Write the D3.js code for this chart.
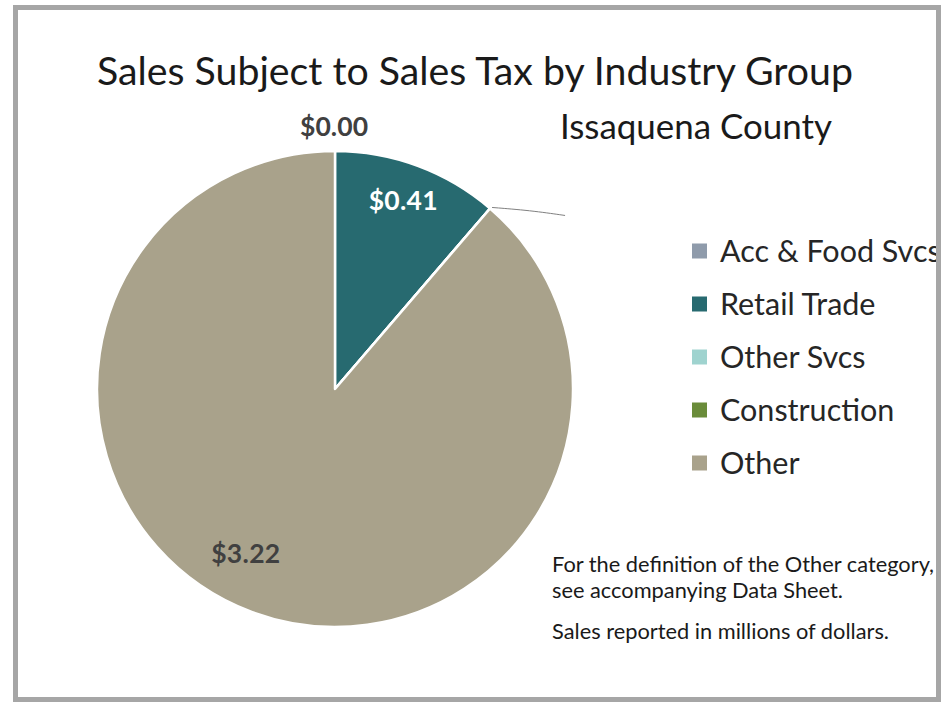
<!DOCTYPE html>
<html><head><meta charset="utf-8">
<script src="https://cdn.jsdelivr.net/npm/d3@7"></script>
<style>
body{margin:0;background:#fff;}
text{font-family:Lato,"Open Sans",sans-serif;}
</style></head>
<body><svg id="c" width="949" height="704"></svg>
<script>
const categories = ["Acc & Food Svcs","Retail Trade","Other Svcs","Construction","Other"];
const values = [0.00, 0.41, 0.00, 0.00, 3.22];
const colors = ["#8f9bab","#276a70","#9fd3cf","#6a8c3a","#a9a28b"];
const title = "Sales Subject to Sales Tax by Industry Group";
const subtitle = "Issaquena County";
const notes = ["For the definition of the Other category,","see accompanying Data Sheet.","Sales reported in millions of dollars."];

const svg = d3.select("#c");
svg.append("defs").append("clipPath").attr("id","frame")
  .append("rect").attr("x",18).attr("y",10).attr("width",918).attr("height",687);
svg.append("rect").attr("x",15.5).attr("y",7.5).attr("width",923).attr("height",692)
  .attr("fill","#fff").attr("stroke","#a6a6a6").attr("stroke-width",5);

const main = svg.append("g").attr("clip-path","url(#frame)");

main.append("text").attr("x",97).attr("y",85)
  .attr("font-size",39.4).attr("fill","#1a1a1a")
  .attr("textLength",756).attr("lengthAdjust","spacingAndGlyphs").text(title);
main.append("text").attr("x",560).attr("y",139)
  .attr("font-size",34).attr("fill","#1a1a1a")
  .attr("textLength",272).attr("lengthAdjust","spacingAndGlyphs").text(subtitle);

const cx=335, cy=389, R=238;
const data = categories.map((c,i)=>({cat:c,value:values[i],color:colors[i]}));
const pie = d3.pie().sort(null).value(d=>d.value);
const arcs = pie(data);
const arc = d3.arc().innerRadius(0).outerRadius(R);
const g = main.append("g").attr("transform",`translate(${cx},${cy})`);
g.selectAll("path").data(arcs).join("path")
  .attr("d",arc).attr("fill",d=>d.data.color)
  .attr("stroke","#fff").attr("stroke-width",2.5).attr("stroke-linejoin","round");

// leader line for zero slices after retail
const a0 = arcs[2].startAngle;
const p0 = [Math.sin(a0)*R, -Math.cos(a0)*R];
g.append("path").attr("d",d3.line().curve(d3.curveBasis)([[p0[0]+2,p0[1]-1],[p0[0]+40,p0[1]+2],[p0[0]+75,p0[1]+7]]))
  .attr("fill","none").attr("stroke","#808080").attr("stroke-width",1);

// labels
const fmt = v=>"$"+d3.format(".2f")(v);
const lab = g.append("g").attr("font-weight","bold").attr("text-anchor","middle")
  .attr("font-size",26.5).attr("lengthAdjust","spacingAndGlyphs");
lab.append("text").attr("x",Math.sin(arcs[0].startAngle)*(R+17)-1).attr("y",-Math.cos(arcs[0].startAngle)*(R+17)+2)
  .attr("fill","#404040").attr("textLength",68).text(fmt(values[0]));
const mid1 = (arcs[1].startAngle+arcs[1].endAngle)/2, r1 = R*0.8;
lab.append("text").attr("x",Math.sin(mid1)*r1+2).attr("y",-Math.cos(mid1)*r1)
  .attr("fill","#fff").attr("textLength",69).text(fmt(values[1]));
const mid4 = (arcs[4].startAngle+arcs[4].endAngle)/2, r4 = R*0.79;
lab.append("text").attr("x",Math.sin(mid4)*r4-24).attr("y",-Math.cos(mid4)*r4-2)
  .attr("fill","#404040").attr("textLength",69).text(fmt(values[4]));

// legend
const leg = main.append("g").attr("transform","translate(692,251)");
const items = leg.selectAll("g").data(data).join("g").attr("transform",(d,i)=>`translate(0,${i*53})`);
items.append("rect").attr("x",0).attr("y",-7.5).attr("width",15).attr("height",15).attr("fill",d=>d.color);
items.append("text").attr("x",28).attr("y",11).attr("font-size",30.5).attr("fill","#262626").text(d=>d.cat);

const nt = main.append("g").attr("font-size",21.8).attr("fill","#1a1a1a");
nt.selectAll("text").data(notes).join("text").attr("x",552).attr("y",(d,i)=>[572,598,639][i]).text(d=>d);
</script></body></html>
